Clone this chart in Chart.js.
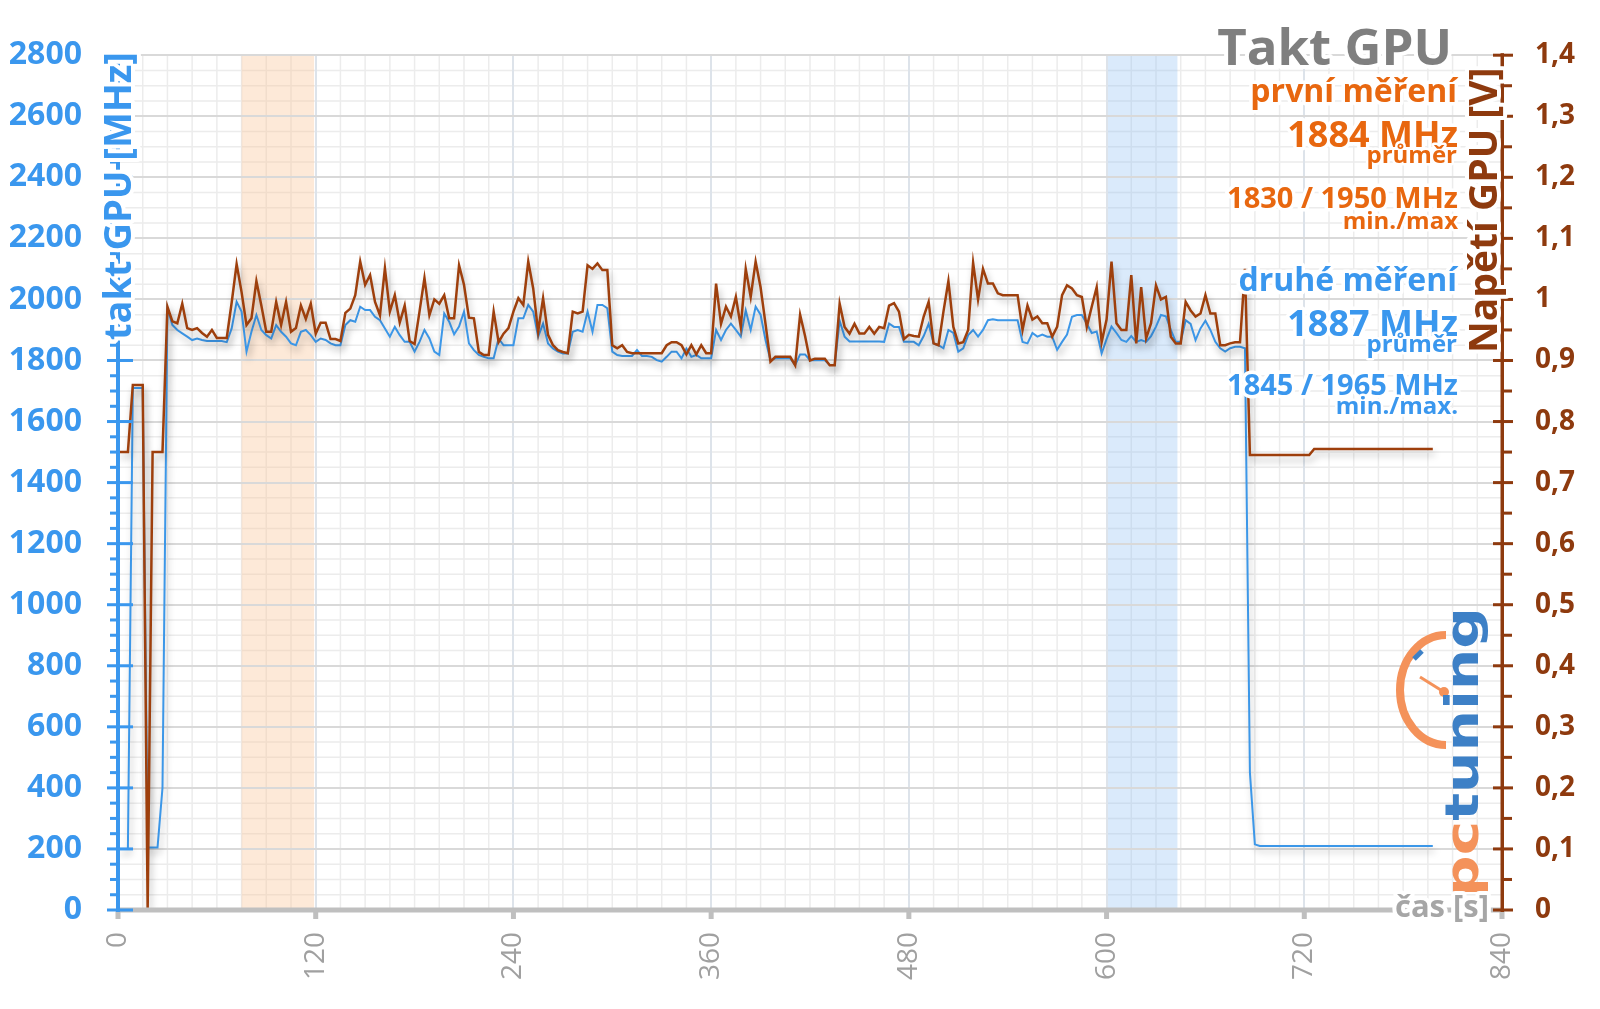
<!DOCTYPE html>
<html><head><meta charset="utf-8">
<script src="https://cdn.jsdelivr.net/npm/chart.js@4.4.1/dist/chart.umd.min.js"></script>
<style>html,body{margin:0;padding:0;background:#fff;}canvas{display:block;}</style>
</head><body>
<canvas id="c" width="1600" height="1009"></canvas>
<script>
// ---------------- DATA ----------------
const SAMPLE_STEP_S = 3;            // one sample every 3 s
const chartTitle = 'Takt GPU';
const runNames = ['první měření', 'druhé měření'];
const avgMHz = [1884, 1887];
const minMHz = [1830, 1845];
const maxMHz = [1950, 1965];
const xTitle = 'čas [s]';
const yLeftTitle = 'takt GPU [MHz]';
const yRightTitle = 'Napětí GPU [V]';
const bandStart = [75, 600];
const bandEnd = [119, 643];

// GPU clock, second run [MHz]
const clockMHz = [
 200,200,200,1710,1710,1710,205,205,205,400,
 1970,1916,1900,1889,1878,1867,1872,1867,1864,1864,
 1864,1864,1860,1905,1992,1960,1829,1894,1949,1900,
 1883,1872,1916,1894,1878,1856,1850,1894,1900,1883,
 1861,1872,1867,1856,1850,1850,1916,1932,1927,1976,
 1965,1965,1943,1932,1905,1878,1910,1883,1861,1861,
 1829,1861,1900,1872,1829,1818,1954,1927,1886,1911,
 1960,1856,1834,1818,1812,1807,1807,1872,1850,1850,
 1850,1938,1938,1982,1960,1878,1921,1856,1839,1829,
 1823,1823,1894,1900,1894,1960,1894,1982,1982,1971,
 1829,1818,1815,1815,1815,1834,1815,1815,1812,1801,
 1796,1812,1829,1829,1807,1839,1812,1818,1807,1807,
 1807,1900,1867,1900,1921,1900,1878,1964,1900,1976,
 1950,1867,1801,1807,1807,1807,1807,1785,1820,1820,
 1801,1801,1801,1801,1785,1785,1930,1878,1862,1862,
 1862,1862,1862,1862,1862,1861,1921,1910,1910,1861,
 1861,1861,1850,1880,1920,1856,1850,1840,1900,1890,
 1829,1840,1883,1900,1878,1900,1932,1935,1932,1932,
 1932,1932,1932,1861,1856,1890,1878,1885,1878,1878,
 1835,1861,1885,1943,1949,1949,1920,1890,1895,1823,
 1870,1911,1890,1867,1861,1880,1861,1867,1861,1880,
 1911,1949,1945,1900,1861,1861,1932,1920,1867,1905,
 1930,1900,1861,1840,1829,1840,1845,1845,1840,450,
 215,210,210,210,210,210,210,210,210,210,
 210,210,210,210,210,210,210,210,210,210,
 210,210,210,210,210,210,210,210,210,210,
 210,210,210,210,210,210,210
];

// GPU voltage [V]
const voltageV = [
 0.75,0.75,0.75,0.86,0.86,0.86,0,0.75,0.75,0.75,
 0.988,0.964,0.961,0.993,0.953,0.95,0.953,0.945,0.939,0.95,
 0.937,0.937,0.937,0.995,1.058,1.012,0.958,0.969,1.03,0.99,
 0.947,0.947,0.996,0.958,0.996,0.947,0.953,0.99,0.968,0.993,
 0.944,0.962,0.962,0.935,0.935,0.932,0.978,0.985,1.007,1.062,
 1.024,1.04,0.996,0.974,1.051,0.98,1.007,0.962,0.99,0.932,
 0.927,0.98,1.035,0.974,1.0,0.993,1.007,0.969,0.969,1.056,
 1.024,0.97,0.969,0.914,0.909,0.909,0.98,0.93,0.944,0.953,
 0.98,1.002,0.991,1.062,1.018,0.947,1.002,0.942,0.925,0.917,
 0.914,0.912,0.98,0.977,0.98,1.056,1.05,1.059,1.048,1.048,
 0.925,0.92,0.925,0.914,0.912,0.912,0.912,0.912,0.912,0.912,
 0.912,0.925,0.93,0.93,0.925,0.91,0.925,0.91,0.925,0.912,
 0.912,1.026,0.96,0.988,0.972,1.004,0.955,1.05,1.004,1.062,
 1.02,0.96,0.898,0.906,0.906,0.906,0.906,0.892,0.975,0.94,
 0.9,0.903,0.903,0.903,0.892,0.892,0.993,0.955,0.944,0.96,
 0.944,0.944,0.955,0.944,0.955,0.953,0.99,0.994,0.98,0.935,
 0.942,0.94,0.939,0.972,0.996,0.928,0.925,0.98,1.03,0.955,
 0.928,0.93,0.95,1.06,1.0,1.05,1.026,1.026,1.01,1.007,
 1.007,1.007,1.007,0.95,0.99,0.967,0.972,0.961,0.961,0.939,
 0.955,1.007,1.023,1.018,1.007,1.004,0.955,0.988,1.02,0.93,
 0.967,1.062,0.961,0.95,0.95,1.04,0.928,1.02,0.936,0.961,
 1.023,1.0,1.004,0.939,0.928,0.928,0.996,0.982,0.972,0.977,
 1.007,0.977,0.977,0.925,0.925,0.928,0.93,0.93,1.05,0.745,
 0.745,0.745,0.745,0.745,0.745,0.745,0.745,0.745,0.745,0.745,
 0.745,0.745,0.755,0.755,0.755,0.755,0.755,0.755,0.755,0.755,
 0.755,0.755,0.755,0.755,0.755,0.755,0.755,0.755,0.755,0.755,
 0.755,0.755,0.755,0.755,0.755,0.755,0.755
];

// ---------------- STYLE ----------------
const FONT = '"Open Sans", "DejaVu Sans", sans-serif';
const BLUE = '#3a97ee';
const BLUE_LINE = '#3c97e8';
const BROWN = '#8e3a0e';
const BROWN_LINE = '#9e3f0c';
const ORANGE = '#e8670f';
const GRAY_TITLE = '#7f7f7f';
const AXIS_GRAY = '#bfbfbf';
const bandColors = ['rgba(250,200,158,0.40)', 'rgba(140,190,242,0.32)'];

const times = clockMHz.map((_, i) => i * SAMPLE_STEP_S);
const clockPts = clockMHz.map((v, i) => ({x: times[i], y: v}));
const voltPts = voltageV.map((v, i) => ({x: times[i], y: v}));

function haloText(ctx, text, x, y, font, color, align, halo) {
  ctx.font = font;
  ctx.textAlign = align || 'left';
  ctx.textBaseline = 'alphabetic';
  ctx.lineJoin = 'round';
  ctx.strokeStyle = '#ffffff';
  ctx.lineWidth = halo === undefined ? 7 : halo;
  if (ctx.lineWidth > 0) ctx.strokeText(text, x, y);
  ctx.fillStyle = color;
  ctx.fillText(text, x, y);
}

const decoPlugin = {
  id: 'deco',
  beforeDraw(chart) {
    const {ctx, chartArea: a, scales} = chart;
    const x = scales.x, y = scales.y;
    ctx.save();
    ctx.fillStyle = '#ffffff';
    ctx.fillRect(0, 0, chart.width, chart.height);
    ctx.strokeStyle = '#ececec';
    ctx.lineWidth = 1.5;
    ctx.beginPath();
    for (let v = 0; v <= x.max; v += 15) {
      if (v % 120 === 0) continue;
      const px = x.getPixelForValue(v);
      ctx.moveTo(px, a.top); ctx.lineTo(px, a.bottom);
    }
    for (let v = 0; v <= y.max; v += 50) {
      if (v % 200 === 0) continue;
      const py = y.getPixelForValue(v);
      ctx.moveTo(a.left, py); ctx.lineTo(a.right, py);
    }
    ctx.stroke();
    bandStart.forEach((s, i) => {
      const x0 = x.getPixelForValue(s), x1 = x.getPixelForValue(bandEnd[i]);
      ctx.fillStyle = bandColors[i];
      ctx.fillRect(x0, a.top, x1 - x0, a.bottom - a.top);
    });
    ctx.restore();
  },
  beforeDatasetsDraw(chart) {
    const ctx = chart.ctx;
    ctx.save();
    const OR = '#f4925a', BL = '#3d80c6';
    ctx.strokeStyle = OR; ctx.lineWidth = 8;
    ctx.beginPath(); ctx.ellipse(1446, 690, 46, 55, 0, Math.PI / 2, Math.PI * 1.5); ctx.stroke();
    ctx.strokeStyle = BL; ctx.lineWidth = 5;
    ctx.beginPath(); ctx.moveTo(1414, 659); ctx.lineTo(1422, 651); ctx.stroke();
    ctx.strokeStyle = OR; ctx.lineWidth = 3;
    ctx.beginPath(); ctx.moveTo(1420, 677); ctx.lineTo(1444, 692); ctx.stroke();
    ctx.fillStyle = OR;
    ctx.beginPath(); ctx.arc(1444, 692, 5, 0, Math.PI * 2); ctx.fill();
    ctx.translate(1478, 897);
    ctx.rotate(-Math.PI / 2);
    ctx.font = 'bold 46px "DejaVu Sans", sans-serif';
    const wpc = ctx.measureText('pc').width, wt = ctx.measureText('tuning').width;
    ctx.scale(290 / (wpc + wt), 1);
    ctx.textBaseline = 'alphabetic'; ctx.textAlign = 'left';
    ctx.fillStyle = OR; ctx.fillText('pc', 0, 0);
    ctx.fillStyle = BL; ctx.fillText('tuning', wpc, 0);
    ctx.restore();
  },
  beforeDatasetDraw(chart) {
    const ctx = chart.ctx;
    ctx.save();
    ctx.shadowColor = 'rgba(0,0,0,0.28)';
    ctx.shadowBlur = 7;
    ctx.shadowOffsetX = 2;
    ctx.shadowOffsetY = 5;
  },
  afterDatasetDraw(chart) {
    chart.ctx.restore();
  },
  afterDraw(chart) {
    const {ctx, chartArea: a, scales} = chart;
    const x = scales.x, y = scales.y, y1 = scales.y1;
    ctx.save();
    ctx.fillStyle = AXIS_GRAY;
    ctx.fillRect(a.left, a.bottom - 2.5, a.right - a.left, 5);
    for (let v = 0; v <= x.max; v += 120) {
      const px = x.getPixelForValue(v);
      ctx.fillRect(px - 2.5, a.bottom, 5, 9);
    }
    ctx.fillStyle = BLUE;
    ctx.fillRect(a.left - 2, a.top - 2, 4, a.bottom - a.top + 4);
    for (let v = 0; v <= y.max; v += 50) {
      const py = y.getPixelForValue(v);
      if (v % 200 === 0) ctx.fillRect(a.left - 11, py - 1.5, 26, 3);
      else ctx.fillRect(a.left - 8, py - 1.5, 9, 3);
    }
    ctx.fillStyle = BROWN;
    ctx.fillRect(a.right - 1.5, a.top - 2, 3.5, a.bottom - a.top + 4);
    for (let k = 0; k <= 28; k++) {
      const py = y1.getPixelForValue(k * 0.05);
      if (k % 2 === 0) ctx.fillRect(a.right - 9, py - 1.5, 20, 3);
      else ctx.fillRect(a.right, py - 1.5, 10, 3);
    }
    haloText(ctx, xTitle, 1489, 917, 'bold 31px ' + FONT, '#a6a6a6', 'right', 8);
    ctx.save();
    ctx.translate(131, 340); ctx.rotate(-Math.PI / 2);
    haloText(ctx, yLeftTitle, 0, 0, 'bold 38px ' + FONT, BLUE, 'left', 8);
    ctx.restore();
    ctx.save();
    ctx.translate(1497, 353); ctx.rotate(-Math.PI / 2);
    haloText(ctx, yRightTitle, 0, 0, 'bold 39px ' + FONT, BROWN, 'left', 8);
    ctx.restore();
    const runColors = [ORANGE, BLUE];
    const blockTop = [0, 189];
    haloText(ctx, chartTitle, 1452, 65, 'bold 51px ' + FONT, GRAY_TITLE, 'right', 8);
    runNames.forEach((name, i) => {
      const o = blockTop[i], c = runColors[i];
      haloText(ctx, name, 1457, 102 + o, 'bold 32px ' + FONT, c, 'right');
      haloText(ctx, avgMHz[i] + ' MHz', 1458, 147 + o, 'bold 36px ' + FONT, c, 'right');
      haloText(ctx, 'průměr', 1457, 163 + o, 'bold 24px ' + FONT, c, 'right', 5);
      haloText(ctx, minMHz[i] + ' / ' + maxMHz[i] + ' MHz', 1458, 208 + (i ? -2 : 0) + o, 'bold 29px ' + FONT, c, 'right');
      haloText(ctx, i ? 'min./max.' : 'min./max', 1458, 229 + (i ? -4 : 0) + o, 'bold 24px ' + FONT, c, 'right', 5);
    });
    ctx.restore();
  }
};

new Chart(document.getElementById('c'), {
  type: 'line',
  data: {
    datasets: [
      {label: yRightTitle, data: voltPts, yAxisID: 'y1', borderColor: BROWN_LINE, borderWidth: 2.5,
       pointRadius: 0, tension: 0, fill: false},
      {label: yLeftTitle, data: clockPts, yAxisID: 'y', borderColor: BLUE_LINE, borderWidth: 2,
       pointRadius: 0, tension: 0, fill: false}
    ]
  },
  options: {
    responsive: false,
    animation: false,
    devicePixelRatio: 1,
    layout: {padding: {top: 55, left: 0, right: 0, bottom: 0}},
    plugins: {legend: {display: false}, tooltip: {enabled: false}},
    scales: {
      x: {
        type: 'linear', min: 0, max: 840,
        afterFit: s => { s.height = 99; },
        ticks: {stepSize: 120, minRotation: 90, maxRotation: 90, padding: 22,
                color: '#a0a0a0', font: {family: FONT, size: 28},
                callback: v => String(v)},
        grid: {color: '#dde3ea', lineWidth: 2, drawTicks: false},
        border: {display: false}
      },
      y: {
        position: 'left', min: 0, max: 2800,
        afterFit: s => { s.width = 118; },
        ticks: {stepSize: 200, padding: 36, color: BLUE, font: {family: FONT, size: 32, weight: 'bold'},
                callback: v => String(v)},
        grid: {color: '#d9d9d9', lineWidth: 2, drawTicks: false},
        border: {display: false}
      },
      y1: {
        position: 'right', min: 0, max: 1.4,
        afterFit: s => { s.width = 98; },
        ticks: {stepSize: 0.1, padding: 33, color: BROWN, font: {family: FONT, size: 28, weight: 'bold'},
                callback: v => String(Math.round(v * 10) / 10).replace('.', ',')},
        grid: {display: false, drawTicks: false},
        border: {display: false}
      }
    }
  },
  plugins: [decoPlugin]
});
</script>
</body></html>
